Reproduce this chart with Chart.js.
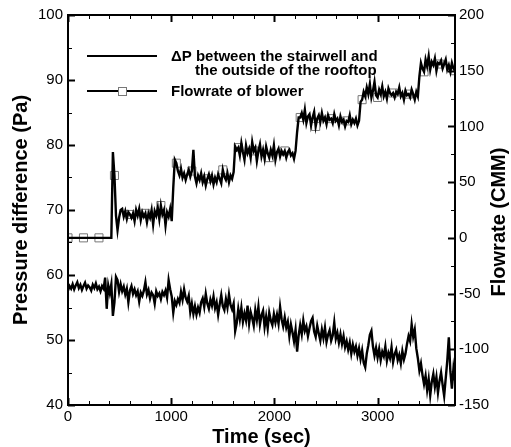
<!DOCTYPE html>
<html><head><meta charset="utf-8">
<script src="https://cdn.jsdelivr.net/npm/chart.js@4.4.0/dist/chart.umd.min.js"></script>
<style>html,body{margin:0;padding:0;background:#fff}#wrap{width:511px;height:447px;position:relative}</style>
</head><body><div id="wrap"><canvas id="c" width="511" height="447"></canvas></div>
<script>
// sampling interval of both records (seconds)
const timeStepSec = 15;

// Pressure difference between stairwell and rooftop outside (Pa), left axis
const deltaP = [
  57.6,58.3,57.9,58.6,57.8,58.4,58.9,58.0,58.5,57.7,
  58.3,58.8,57.9,58.4,58.1,57.6,58.5,58.0,58.7,57.8,
  58.2,57.5,58.3,57.9,59.6,54.8,58.4,57.2,58.6,53.7,
  55.8,59.7,59.2,57.4,58.6,57.5,58.2,57.0,57.9,55.8,
  57.6,58.3,57.1,57.8,56.9,57.5,55.9,57.3,56.8,57.6,
  58.9,57.0,57.7,56.4,57.3,56.9,55.6,57.5,56.8,57.2,
  56.3,57.4,56.9,57.6,56.5,59.2,57.8,56.7,54.2,56.0,
  55.4,56.3,55.7,57.4,56.2,57.8,56.5,55.9,56.8,54.3,
  55.6,54.0,55.2,53.9,55.0,54.2,55.8,56.4,55.1,57.1,
  55.6,54.8,56.2,55.3,56.7,54.9,55.8,53.9,55.5,56.9,
  55.2,54.6,56.3,55.0,57.0,55.4,54.7,55.6,51.4,52.6,
  54.8,53.2,55.0,52.8,54.1,53.0,55.3,52.5,54.3,53.4,
  52.2,54.6,53.1,55.1,52.4,53.8,54.5,52.0,53.6,51.8,
  54.2,53.0,52.3,54.0,52.7,53.9,52.5,55.1,53.2,52.1,
  53.5,51.9,52.8,50.6,52.4,51.2,49.8,51.6,48.2,50.7,
  52.3,50.9,53.0,51.4,52.1,50.6,51.8,52.9,53.4,51.3,
  50.5,52.2,51.0,49.9,51.6,50.3,51.9,49.7,50.8,51.5,
  49.9,50.7,52.7,50.2,51.1,49.6,50.9,49.4,50.6,48.9,
  49.8,48.5,49.6,47.9,49.3,48.2,49.0,47.6,48.7,47.1,
  48.4,46.5,45.8,47.9,49.2,50.8,51.4,49.0,47.6,48.8,
  47.3,48.6,46.9,48.2,47.5,49.0,46.8,48.0,47.2,48.9,
  46.6,47.8,48.5,46.9,47.7,46.4,48.3,47.0,47.9,49.4,
  50.6,49.8,52.4,50.5,51.6,48.7,47.2,45.3,46.4,44.6,
  43.2,44.5,42.3,44.0,41.5,43.6,44.8,42.8,44.3,41.9,
  43.7,45.0,43.1,41.4,44.1,46.8,50.4,45.2,42.5,45.6,
  43.8
];

// Blower flowrate (CMM), right axis
const flowrate = [
  0,0,0,0,0,0,0,0,0,0,
  0,0,0,0,0,0,0,0,0,0,
  0,0,0,0,0,0,0,0,0,77,
  56,20,7,18,25,26,19,24,17,23,
  21,18,22,15,25,20,26,16,23,19,
  22,14,22,18,25,12,24,20,27,17,
  29,21,25,11,23,19,26,15,45,70,
  67,60,56,62,54,58,52,57,61,55,
  60,79,55,49,56,52,58,50,55,47,
  53,57,51,56,48,54,50,57,53,49,
  61,55,52,58,50,56,53,59,82,79,
  81,74,85,77,70,83,76,80,72,86,
  78,81,69,78,84,73,79,71,82,76,
  72,79,74,83,70,77,80,73,78,75,
  78,72,77,79,74,76,71,78,95,108,
  108,112,106,115,103,109,111,101,108,113,
  100,107,110,104,112,105,108,102,110,106,
  107,103,111,105,107,101,109,104,106,100,
  105,104,110,102,106,103,107,101,105,122,
  124,131,127,135,129,138,126,132,140,128,
  126,133,129,136,127,131,125,134,130,128,
  130,126,131,129,135,127,130,124,132,128,
  129,126,133,129,124,131,127,145,157,152,
  149,160,154,163,151,158,155,161,150,157,
  156,159,152,156,160,151,155,149,157,152,
  150
];

const markerEvery = 10; // a square marker every 10 samples (150 s)

const dpLabel = ['\u0394P between the stairwell and', 'the outside of the rooftop'];
const flowLabel = 'Flowrate of blower';

const xTickLabels = [0, 1000, 2000, 3000];
const leftTickLabels = [40, 50, 60, 70, 80, 90, 100];
const rightTickLabels = [-150, -100, -50, 0, 50, 100, 150, 200];

const timeSec = deltaP.map((_, i) => i * timeStepSec);
const FONT = '"Liberation Sans", Arial, Helvetica, sans-serif';

const framePlugin = {
  id: 'frame',
  afterDraw(chart) {
    const {ctx, chartArea: a, scales} = chart;
    ctx.save();
    ctx.strokeStyle = '#000';
    ctx.lineCap = 'butt';
    const seg = (x1, y1, x2, y2, w) => {
      ctx.lineWidth = w; ctx.beginPath(); ctx.moveTo(x1, y1); ctx.lineTo(x2, y2); ctx.stroke();
    };
    scales.x.ticks.forEach(t => {
      if (t.value % 200 !== 0) return;
      const px = Math.round(scales.x.getPixelForValue(t.value)) + 0.5;
      const major = xTickLabels.includes(t.value);
      const L = major ? 7 : 4;
      seg(px, a.bottom, px, a.bottom - L, major ? 2 : 1);
      seg(px, a.top, px, a.top + L, major ? 2 : 1);
    });
    scales.y.ticks.forEach(t => {
      const py = Math.round(scales.y.getPixelForValue(t.value)) + 0.5;
      const major = leftTickLabels.includes(t.value);
      seg(a.left, py, a.left + (major ? 7 : 4), py, major ? 2 : 1);
    });
    scales.y2.ticks.forEach(t => {
      const py = Math.round(scales.y2.getPixelForValue(t.value)) + 0.5;
      const major = rightTickLabels.includes(t.value);
      seg(a.right, py, a.right - (major ? 7 : 4), py, major ? 2 : 1);
    });
    ctx.lineWidth = 2;
    ctx.strokeRect(a.left, a.top, a.right - a.left, a.bottom - a.top);

    // legend
    ctx.fillStyle = '#000';
    ctx.font = 'bold 15px ' + FONT;
    ctx.textBaseline = 'middle';
    ctx.textAlign = 'left';
    seg(87, 56, 157, 56, 2);
    ctx.fillText(chart.data.datasets[0].label[0], 171, 57);
    ctx.fillText(chart.data.datasets[0].label[1], 195, 71);
    seg(87, 91, 157, 91, 2);
    ctx.fillStyle = '#fff';
    ctx.fillRect(118, 87, 8, 8);
    ctx.strokeStyle = '#777';
    ctx.lineWidth = 1;
    ctx.strokeRect(118.5, 87.5, 8, 8);
    ctx.fillStyle = '#000';
    ctx.fillText(chart.data.datasets[1].label, 171, 92);

    // right axis title (reads bottom to top)
    ctx.translate(499, 222);
    ctx.rotate(-Math.PI / 2);
    ctx.textAlign = 'center';
    ctx.font = 'bold 20px ' + FONT;
    ctx.fillText(scales.y2.options.title.text, 0, 0);
    ctx.restore();
  }
};

new Chart(document.getElementById('c'), {
  type: 'line',
  data: {
    datasets: [
      {
        label: dpLabel,
        yAxisID: 'y',
        order: 1,
        data: timeSec.map((t, i) => ({x: t, y: deltaP[i]})),
        borderColor: '#000', borderWidth: 2.4, pointRadius: 0, tension: 0
      },
      {
        label: flowLabel,
        yAxisID: 'y2',
        order: 1,
        data: timeSec.map((t, i) => ({x: t, y: flowrate[i]})),
        borderColor: '#000', borderWidth: 2.4, tension: 0, pointRadius: 0
      },
      {
        label: flowLabel + ' (symbols)',
        yAxisID: 'y2',
        order: 5,
        showLine: false,
        data: timeSec.map((t, i) => ({x: t, y: flowrate[i]})).filter((_, i) => i % markerEvery === 0),
        pointStyle: 'rect', pointRadius: 5.7,
        pointBorderColor: '#777', pointBorderWidth: 1,
        pointBackgroundColor: 'rgba(0,0,0,0)'
      }
    ]
  },
  options: {
    responsive: false,
    devicePixelRatio: 1,
    animation: false,
    events: [],
    layout: {padding: {top: 15, left: 0, right: 0, bottom: 0}},
    plugins: {legend: {display: false}, tooltip: {enabled: false}},
    scales: {
      x: {
        type: 'linear', position: 'bottom', min: 0, max: 3750,
        grid: {display: false, drawTicks: false}, border: {display: false},
        ticks: {stepSize: 200, autoSkip: false, maxRotation: 0, padding: 3, color: '#000',
          font: {size: 15, family: FONT},
          callback: v => (xTickLabels.includes(v) ? String(v) : '')},
        title: {display: true, text: 'Time (sec)', color: '#000', padding: 0,
          font: {size: 20, weight: 'bold', family: FONT, lineHeight: 1}},
        afterFit: s => { s.height = 42; }
      },
      y: {
        type: 'linear', position: 'left', min: 40, max: 100,
        grid: {display: false, drawTicks: false}, border: {display: false},
        ticks: {stepSize: 5, autoSkip: false, padding: 5, color: '#000',
          font: {size: 15, family: FONT},
          callback: v => (leftTickLabels.includes(v) ? String(v) : '')},
        title: {display: true, text: 'Pressure difference (Pa)', color: '#000', padding: {top: 9, bottom: 0},
          font: {size: 20, weight: 'bold', family: FONT}},
        afterFit: s => { s.width = 68; }
      },
      y2: {
        type: 'linear', position: 'right', min: -150, max: 200,
        grid: {display: false, drawTicks: false}, border: {display: false},
        ticks: {stepSize: 25, autoSkip: false, padding: 4, color: '#000',
          font: {size: 15, family: FONT},
          callback: v => (rightTickLabels.includes(v) ? String(v) : '')},
        title: {display: false, text: 'Flowrate (CMM)'},
        afterFit: s => { s.width = 56; }
      }
    }
  },
  plugins: [framePlugin]
});
</script>
</body></html>
